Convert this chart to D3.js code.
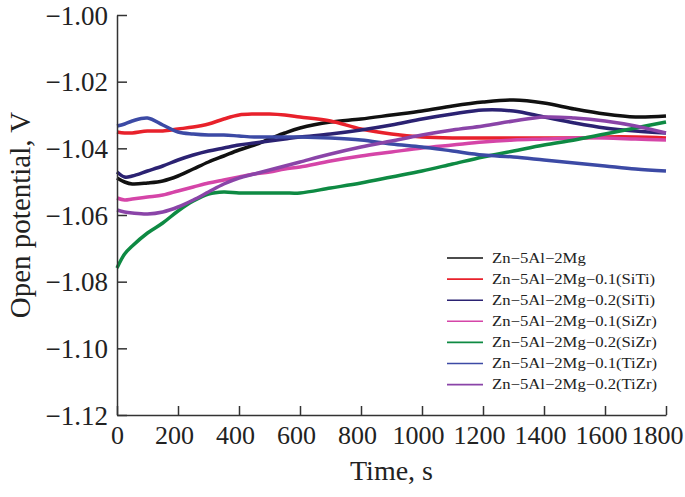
<!DOCTYPE html>
<html>
<head>
<meta charset="utf-8">
<script src="https://cdn.jsdelivr.net/npm/d3@7"></script>
<style>
  html, body { margin: 0; padding: 0; background: #fff; }
  svg { display: block; font-family: "Liberation Serif", "Times New Roman", serif; }
</style>
</head>
<body>
<svg id="chart" width="685" height="497"></svg>
<script>
// ---- data ----
const times = [0,25,50,100,150,200,250,300,350,400,450,500,550,600,700,800,900,1000,1100,1200,1300,1400,1500,1600,1700,1800];

const seriesNames = [
  "Zn\u22125Al\u22122Mg",
  "Zn\u22125Al\u22122Mg\u22120.1(SiTi)",
  "Zn\u22125Al\u22122Mg\u22120.2(SiTi)",
  "Zn\u22125Al\u22122Mg\u22120.1(SiZr)",
  "Zn\u22125Al\u22122Mg\u22120.2(SiZr)",
  "Zn\u22125Al\u22122Mg\u22120.1(TiZr)",
  "Zn\u22125Al\u22122Mg\u22120.2(TiZr)"
];

const base = [-1.0489,-1.0501,-1.0507,-1.0504,-1.0498,-1.0483,-1.0462,-1.0441,-1.0423,-1.0405,-1.0390,-1.0372,-1.0354,-1.0339,-1.0321,-1.0312,-1.0300,-1.0288,-1.0273,-1.0261,-1.0255,-1.0264,-1.0282,-1.0297,-1.0306,-1.0303];
const siTi01 = [-1.0351,-1.0354,-1.0354,-1.0348,-1.0348,-1.0342,-1.0336,-1.0327,-1.0312,-1.0300,-1.0297,-1.0297,-1.0300,-1.0306,-1.0318,-1.0342,-1.0357,-1.0366,-1.0369,-1.0369,-1.0369,-1.0369,-1.0369,-1.0366,-1.0366,-1.0369];
const siTi02 = [-1.0471,-1.0486,-1.0483,-1.0468,-1.0453,-1.0435,-1.0420,-1.0408,-1.0399,-1.0390,-1.0384,-1.0378,-1.0372,-1.0366,-1.0357,-1.0345,-1.0330,-1.0312,-1.0297,-1.0285,-1.0288,-1.0306,-1.0324,-1.0339,-1.0348,-1.0354];
const siZr01 = [-1.0549,-1.0555,-1.0552,-1.0546,-1.0540,-1.0528,-1.0516,-1.0504,-1.0495,-1.0486,-1.0477,-1.0471,-1.0462,-1.0456,-1.0438,-1.0423,-1.0411,-1.0399,-1.0390,-1.0381,-1.0375,-1.0372,-1.0369,-1.0369,-1.0372,-1.0375];
const siZr02 = [-1.0759,-1.0717,-1.0693,-1.0654,-1.0624,-1.0588,-1.0558,-1.0537,-1.0531,-1.0534,-1.0534,-1.0534,-1.0534,-1.0534,-1.0519,-1.0504,-1.0486,-1.0468,-1.0447,-1.0426,-1.0408,-1.0390,-1.0375,-1.0357,-1.0339,-1.0321];
const tiZr01 = [-1.0333,-1.0327,-1.0318,-1.0309,-1.0330,-1.0351,-1.0357,-1.0360,-1.0360,-1.0363,-1.0366,-1.0366,-1.0366,-1.0366,-1.0369,-1.0375,-1.0387,-1.0396,-1.0408,-1.0420,-1.0426,-1.0435,-1.0444,-1.0453,-1.0462,-1.0468];
const tiZr02 = [-1.0585,-1.0591,-1.0594,-1.0597,-1.0591,-1.0576,-1.0555,-1.0531,-1.0507,-1.0489,-1.0477,-1.0465,-1.0453,-1.0441,-1.0417,-1.0396,-1.0378,-1.0360,-1.0345,-1.0333,-1.0318,-1.0306,-1.0309,-1.0318,-1.0333,-1.0354];

const seriesValues = [base, siTi01, siTi02, siZr01, siZr02, tiZr01, tiZr02];
const colors = ["#111111", "#e8212b", "#2b2272", "#d545a8", "#0e8a43", "#3c4aa5", "#8a44a8"];

const xTicks = [0,200,400,600,800,1000,1200,1400,1600,1800];
const yTicks = [-1.00,-1.02,-1.04,-1.06,-1.08,-1.10,-1.12];

// ---- layout ----
const svg = d3.select("#chart");
const mLeft = 117, mTop = 15, mRight = 666, mBottom = 415;

const x = d3.scaleLinear().domain([0, 1800]).range([mLeft, mRight]);
const y = d3.scaleLinear().domain([-1.12, -1.00]).range([mBottom, mTop]);

const axisColor = "#333";
const fmt = v => "\u2212" + Math.abs(v).toFixed(2);

// lines (drawn first, axes on top)
const line = d3.line()
  .x((d, i) => x(times[i]))
  .y(d => y(d))
  .curve(d3.curveCatmullRom.alpha(0.5));

const plot = svg.append("g");
seriesValues.forEach((vals, k) => {
  plot.append("path")
    .attr("d", line(vals))
    .attr("fill", "none")
    .attr("stroke", colors[k])
    .attr("stroke-width", 3.5)
    .attr("stroke-linejoin", "round")
    .attr("stroke-linecap", "butt");
});

// y axis
const gy = svg.append("g").attr("transform", `translate(${mLeft},0)`)
  .call(d3.axisLeft(y).tickValues(yTicks).tickFormat(fmt).tickSize(-10).tickSizeOuter(0).tickPadding(9));
gy.select(".domain").attr("stroke", axisColor).attr("stroke-width", 1.5);
gy.selectAll(".tick line").attr("stroke", axisColor).attr("stroke-width", 1.5);
gy.selectAll(".tick text").attr("fill", "#222").style("font-size", "27px").style("font-family", "Liberation Serif").attr("dy", "0.34em");

// x axis
const gx = svg.append("g").attr("transform", `translate(0,${mBottom})`)
  .call(d3.axisBottom(x).tickValues(xTicks).tickFormat(d3.format("d")).tickSize(-9).tickSizeOuter(0).tickPadding(11));
gx.select(".domain").attr("stroke", axisColor).attr("stroke-width", 1.5);
gx.selectAll(".tick line").attr("stroke", axisColor).attr("stroke-width", 1.5);
gx.selectAll(".tick text")
  .attr("fill", "#222").style("font-size", "26px").style("font-family", "Liberation Serif")
  .attr("dy", "0.71em")
  .attr("dx", d => d === 0 ? 0 : (d === 1800 ? -9 : -4));

// axis titles
svg.append("text")
  .attr("x", (mLeft + mRight) / 2).attr("y", 480)
  .attr("text-anchor", "middle").attr("fill", "#222")
  .style("font-size", "28px").text("Time, s");
svg.append("text")
  .attr("transform", "translate(30,215) rotate(-90)")
  .attr("text-anchor", "middle").attr("fill", "#222")
  .style("font-size", "29px").text("Open potential, V");

// legend
const legend = svg.append("g");
seriesNames.forEach((name, k) => {
  const yy = 258 + k * 21.1;
  legend.append("line")
    .attr("x1", 447).attr("x2", 483).attr("y1", yy).attr("y2", yy)
    .attr("stroke", colors[k]).attr("stroke-width", 1.6);
  legend.append("g").attr("transform", `translate(492,${yy}) scale(1.15,1)`)
    .append("text").attr("x", 0).attr("y", 0).attr("dy", "0.33em")
    .attr("fill", "#222").style("font-size", "14.5px").text(name);
});
</script>
</body>
</html>
